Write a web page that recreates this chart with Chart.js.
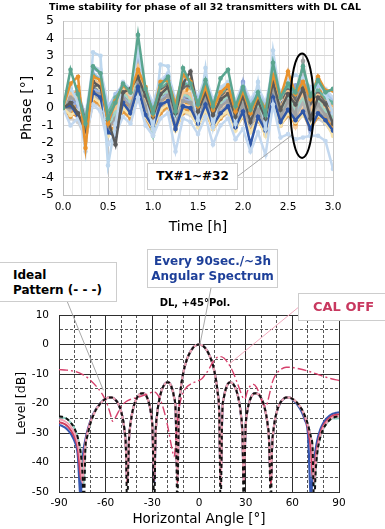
<!DOCTYPE html>
<html>
<head>
<meta charset="utf-8">
<title>Phase stability / angular spectrum</title>
<script src="https://cdn.jsdelivr.net/npm/chart.js@4.4.1/dist/chart.umd.min.js"></script>
<style>
  body { margin: 0; background: #fff; font-family: "DejaVu Sans", Verdana, sans-serif; }
  #page { position: relative; width: 385px; height: 529px; overflow: hidden; }
  #topWrap { position: absolute; left: 0; top: 0; width: 385px; height: 240px; }
  #botWrap { position: absolute; left: 0; top: 240px; width: 385px; height: 289px; }
  .title { position: absolute; font-weight: bold; white-space: nowrap; text-align: center; color: #000; }
  .box { position: absolute; background: #fff; border: 1px solid #cdcdcd; font-weight: bold; font-size: 12px;
         line-height: 15px; box-sizing: border-box; white-space: nowrap; z-index: 5; }
</style>
</head>
<body>
<div id="page">
  <div id="topWrap"><canvas id="phaseChart"></canvas></div>
  <div id="botWrap"><canvas id="patternChart"></canvas></div>

  <div class="title" style="left:25px;width:360px;top:1px;font-size:9.5px;line-height:12px;">Time stability for phase of all 32 transmitters with DL CAL</div>
  <div class="title" style="left:95px;width:200px;top:297px;font-size:10px;line-height:12px;">DL, +45°Pol.</div>

  <div class="box" style="left:147px;top:163px;width:91px;height:27px;line-height:25px;text-align:center;">TX#1~#32</div>
  <div class="box" style="left:-1px;top:262px;width:118px;height:40px;padding:5px 0 0 13px;">Ideal<br>Pattern (- - -)</div>
  <div class="box" style="left:147px;top:249px;width:131px;height:39px;padding-top:4px;text-align:center;color:#1d3f99;">Every 90sec./~3h<br>Angular Spectrum</div>
  <div class="box" style="left:298px;top:293px;width:90px;height:28px;line-height:26px;padding-left:14px;font-size:13px;color:#c8385f;">CAL OFF</div>
</div>

<script>
// ---- top chart: phase of each TX, one point every 5 minutes ----
const minutes = [0,5,10,15,20,25,30,35,40,45,50,55,60,65,70,75,80,85,90,95,100,105,110,115,120,125,130,135,140,145,150,155,160,165,170,175,180];

const tx1  = [0,2.2,0.8,-0.9,2.4,2.0,-0.6,0.3,1.4,0.9,4.2,1.1,-0.3,1.3,1.8,-0.2,2.3,1.4,0.2,1.6,0.1,1.7,2.2,0.1,1.2,-0.1,0.9,-0.4,2.6,0.6,1.4,0.9,2.4,0.7,1.6,0.9,1.1];
const tx2  = [0,1.4,1.8,-2.3,1.8,1.6,-0.9,0.4,1.3,0.9,2.2,1.2,-0.4,1.5,1.6,0.2,1.9,1.5,0.1,1.2,-0.1,0.9,1.3,-0.2,1.0,-0.3,0.7,-0.1,1.9,0.6,2.1,0.8,1.5,0.5,1.8,1.0,1.0];
const tx3  = [0,0.3,-0.3,-1.3,1.5,1.2,-0.7,-2.1,0.9,1.1,1.8,0.7,-0.5,0.8,1.2,-0.3,1.4,2.1,-0.2,0.9,-0.4,0.5,0.8,-0.5,0.7,-0.8,0.4,-0.6,1.5,-0.1,0.8,0.2,1.1,-0.6,0.6,0.2,-0.9];
const tx4  = [0,1.2,0.3,-2.5,3.2,3.0,-3.3,-0.9,1.4,0.8,3.3,0.9,-1.2,2.5,2.4,-0.4,1.8,1.5,-0.7,2.3,-1.1,1.1,1.4,-0.9,1.2,-0.8,1.5,-1.2,3.3,0.5,1.6,1.9,1.7,1.2,1.5,0.8,-0.3];
const tx5  = [0,-1.0,-0.6,-1.8,0.2,-0.2,-2.1,-1.5,-0.5,-0.9,0.6,-1.0,-1.6,-0.6,-0.3,-2.5,-0.6,-0.8,-1.5,-0.5,-2.1,-1.0,-0.6,-1.8,-1.2,-2.5,-1.4,-2.7,0.2,-1.7,-1.5,-1.8,-1.7,-1.6,-1.6,-1.9,-3.5];
const tx6  = [0,0.2,-0.5,-1.7,0.9,0.6,-1.4,-1.6,0.3,-0.3,1.2,-0.4,-1.1,0.2,0.4,-1.2,0.1,0.0,-0.9,0.2,-1.0,-0.3,0.1,-1.1,-0.2,-2.1,-0.5,-1.3,0.6,-0.8,-0.1,-0.7,-0.2,-1.2,-0.3,-0.7,-1.3];
const tx7  = [0,0.6,0.4,-1.4,0.9,0.8,-1.2,-0.6,0.5,0.1,1.4,0.1,-0.9,0.4,0.7,-0.8,0.4,0.3,-0.6,0.5,-0.7,0.1,0.4,-0.8,0.2,-0.9,-0.1,-1.1,1.0,-0.5,0.4,-0.4,2.7,-0.5,0.2,-0.4,-0.8];
const tx8  = [0,0.8,0.5,-0.9,1.6,1.4,-0.5,0.0,1.1,0.6,2.4,0.5,-0.4,0.9,1.2,-0.4,0.9,0.8,-0.1,1.0,-0.2,0.5,0.9,-0.3,0.6,-0.4,0.4,-0.5,1.7,0.0,0.9,0.2,0.8,-0.1,0.7,0.1,-0.2];
const tx9  = [0,-0.4,-0.2,-1.5,0.6,0.3,-1.6,-1.2,0.0,-0.4,0.9,-0.5,-1.2,-0.1,0.2,-1.3,-0.2,-0.3,-1.1,-0.1,-1.2,-0.5,-0.2,-1.3,-0.4,-1.4,-0.6,-1.6,0.4,-1.0,-0.3,-0.8,-0.4,-1.0,-0.4,-0.8,-1.6];
const tx10 = [0,0.9,0.6,-1.6,1.7,1.3,-1.1,-0.3,0.9,0.4,2.0,0.4,-1.5,0.7,1.0,-0.6,0.8,0.6,-0.5,0.8,-0.6,0.3,0.7,-0.7,0.4,-0.6,0.2,-0.9,1.4,-0.2,0.7,-0.1,0.6,-0.3,0.5,-0.2,-0.5];
const tx11 = [0,0.7,0.1,-1.0,2.3,2.0,-0.8,-0.2,0.8,0.5,3.0,0.3,-0.6,0.7,1.1,-0.5,0.7,0.6,-0.3,0.8,-0.4,0.3,0.7,-0.4,1.5,-0.5,0.3,-0.7,1.6,-0.1,0.7,1.3,0.7,0.0,0.5,0.0,-0.4];
const tx12 = [0,-0.5,0.4,-1.9,0.4,0.2,-1.0,-1.3,-0.2,-0.6,0.6,-0.5,-1.4,-0.3,0.1,-1.2,-0.3,0.0,-1.0,-0.2,-1.2,-0.6,-0.2,-1.1,-0.5,-1.3,-0.7,-1.5,0.2,-1.0,-0.4,-0.9,-0.3,-1.2,-0.5,-0.6,-1.1];
const tx13 = [0,0.1,0.9,-0.8,1.2,1.4,-0.5,0.2,1.0,0.5,1.7,0.6,-0.2,1.0,1.3,0.0,1.2,1.3,0.1,1.1,0.0,0.6,1.0,-0.1,0.9,-0.2,0.6,-0.3,1.5,0.3,1.0,0.5,1.1,0.2,0.8,0.3,-0.2];
const tx14 = [0,-0.2,-0.4,-1.1,0.7,0.5,-0.9,-0.8,0.2,-0.1,1.1,-0.2,-1.0,0.1,0.4,-0.9,0.1,-0.1,-0.8,0.2,-0.9,-0.2,0.2,-0.9,0.0,-1.0,-0.3,-1.2,0.8,-0.6,0.1,-0.5,0.3,-0.8,0.0,-0.5,-0.9];
const tx15 = [0,1.1,0.3,-0.7,1.9,1.6,-0.3,0.6,1.2,0.8,2.1,0.9,-0.1,1.1,1.5,0.1,1.5,1.2,0.3,1.3,0.2,0.8,1.2,0.0,1.1,0.1,0.8,-0.1,1.8,0.5,1.2,0.7,1.4,0.4,1.0,0.6,0.3];
const tx16 = [0,0.4,1.0,-0.6,2.0,1.7,0.0,0.8,1.3,1.0,2.3,1.0,0.1,1.4,1.9,0.3,1.5,1.4,0.5,1.5,0.3,1.0,1.3,0.2,1.2,0.3,1.0,0.1,2.0,0.7,1.4,1.0,1.6,0.6,1.3,0.9,0.4];
const tx17 = [0,0.2,-0.1,-1.0,0.5,0.7,-0.6,-0.3,0.4,-0.7,1.0,-0.1,-0.8,0.2,0.5,-0.6,0.2,0.1,-0.5,0.3,-0.6,0.0,0.3,-0.5,0.1,-0.6,-0.2,-0.8,0.9,-0.3,0.2,-1.1,0.3,-0.6,0.1,-0.3,-1.0];
const tx18 = [0,0.5,0.0,-1.3,1.1,0.9,-0.9,-0.5,0.6,0.2,1.6,0.0,-0.8,0.5,0.8,-0.7,0.5,0.4,-0.5,0.6,-0.6,0.1,0.5,-0.7,0.3,-0.8,0.0,-1.0,1.2,-0.4,0.5,-0.3,0.4,-1.6,0.3,-0.3,-0.7];
const tx19 = [0,0.3,1.2,-1.1,1.0,0.6,-0.4,-0.6,0.6,0.0,1.3,0.2,-0.6,0.5,0.6,-0.5,0.4,1.6,-0.3,0.4,-0.4,0.2,0.4,-0.4,0.3,-0.5,0.1,-0.8,1.0,-0.2,0.5,-0.3,0.3,-0.3,1.7,-0.1,-0.4];
const tx20 = [0,0.0,0.2,-0.9,1.0,0.9,-0.6,-0.4,0.8,0.3,1.5,0.3,-0.4,0.6,0.8,-0.4,0.6,0.7,-0.2,0.7,-0.3,0.3,0.6,-0.3,0.6,-0.4,0.3,-0.5,1.2,0.1,0.6,0.0,0.7,-0.3,0.5,0.0,-0.3];
const tx21 = [0,-0.6,-0.8,-1.7,0.3,0.1,-1.5,-1.0,-0.2,-0.5,0.8,-0.7,-1.3,-0.3,0.0,-1.1,-0.3,-0.4,-1.0,-0.2,-1.1,-0.6,-0.3,-1.1,-0.5,-1.2,-0.7,-1.4,0.5,-0.9,-0.5,-0.9,-0.4,-1.0,-0.6,-0.9,-1.5];
const tx22 = [0,0.6,0.0,-0.8,1.4,1.1,-0.2,0.1,0.9,0.6,1.8,0.7,0.0,0.9,1.1,0.0,1.0,0.9,0.2,1.0,0.1,0.6,0.8,0.0,0.8,0.0,0.5,-0.2,1.4,0.3,0.8,0.4,0.9,0.2,0.7,0.3,-0.1];
const tx23 = [0,0.4,-0.1,-1.2,1.3,1.1,-0.8,-0.4,0.6,0.1,1.6,0.0,-1.6,0.4,0.7,-0.9,0.4,0.3,-0.7,0.5,-0.8,0.0,0.4,-0.8,0.2,-0.9,-0.1,-1.0,1.1,-0.5,0.3,-0.4,0.4,-0.7,0.2,-0.4,-0.7];
const tx24 = [0,1.0,0.7,-0.5,1.5,1.3,-0.4,0.3,1.0,0.7,2.0,0.8,-0.2,1.2,1.4,-0.1,1.1,1.0,0.0,1.2,0.0,0.7,1.1,-0.1,0.9,-0.2,0.7,-0.3,2.0,0.4,1.1,0.5,1.2,0.3,0.9,0.4,0.1];
const tx25 = [0,-0.1,0.5,-0.7,1.4,1.2,-0.6,0.0,1.0,0.5,1.9,0.4,-0.5,0.8,1.0,-0.3,0.8,0.7,-0.2,0.9,-0.3,0.4,0.8,-0.2,0.7,-0.3,0.4,-0.4,1.6,0.2,0.8,0.3,0.9,0.1,0.6,0.2,-0.2];
const tx26 = [0,0.4,0.1,-1.0,1.2,1.0,-0.8,-0.3,0.7,0.2,1.7,0.2,-0.6,0.6,0.9,-0.5,0.6,0.5,-0.4,0.7,-0.5,0.2,0.6,-0.5,0.4,-0.6,0.1,-0.7,1.2,-0.2,0.6,-0.1,0.6,-0.4,0.4,-0.9,-0.4];
const tx27 = [0,-0.3,-0.5,-1.0,0.6,0.4,-0.8,-1.0,0.1,-0.3,0.9,-0.3,-1.0,0.0,0.3,-0.9,0.0,-0.2,-0.8,0.0,-0.9,-0.3,0.1,-0.9,-0.2,-1.0,-0.4,-1.1,0.5,-0.7,0.0,-0.6,0.1,-0.8,-0.1,-0.5,-0.8];
const tx28 = [0,0.5,0.3,-0.6,1.0,0.8,-0.4,-0.1,0.7,0.4,1.3,0.4,-0.3,0.7,0.9,-0.2,0.7,0.6,0.0,0.8,-0.1,0.4,0.7,-0.1,0.6,-0.2,0.4,-0.3,1.3,0.2,0.7,0.2,0.8,0.0,0.6,0.1,-0.1];
const tx29 = [0,0.1,0.8,-0.4,2.4,2.2,0.2,0.5,1.5,1.1,2.6,1.2,0.3,1.6,2.0,0.5,1.7,1.6,0.6,1.8,0.5,1.2,1.5,0.4,1.4,0.5,1.2,0.3,2.2,0.9,1.6,1.2,1.9,0.9,1.5,1.1,0.6];
const tx30 = [0,0.7,0.2,-1.1,1.6,1.2,-0.7,-0.2,0.8,0.4,2.2,0.3,-0.5,0.9,1.1,-0.4,0.9,0.7,-0.3,0.9,-0.4,0.3,0.8,-0.4,0.6,-0.5,0.3,-0.6,1.4,0.0,0.8,0.2,2.0,0.1,0.7,0.2,-0.2];
const tx31 = [0,0.1,-0.2,-1.4,0.8,0.6,-1.1,-0.7,0.3,0.0,1.2,-0.1,-0.9,0.3,0.6,-0.8,0.3,0.2,-0.7,0.4,-0.8,0.0,0.3,-0.7,0.1,-0.8,-0.2,-1.0,0.9,-0.5,0.3,-1.0,0.2,-0.6,0.1,-0.4,-0.6];
const tx32 = [0,0.2,0.6,-0.4,1.1,1.0,-0.3,0.1,0.8,0.5,1.4,0.5,-0.1,0.8,1.0,-0.1,0.8,0.7,0.1,0.9,0.0,0.5,0.8,0.0,0.7,-0.1,0.5,-0.2,1.3,0.3,0.8,0.3,0.9,0.1,0.7,0.2,0.0];

const txSeries = [tx1,tx2,tx3,tx4,tx5,tx6,tx7,tx8,tx9,tx10,tx11,tx12,tx13,tx14,tx15,tx16,
                  tx17,tx18,tx19,tx20,tx21,tx22,tx23,tx24,tx25,tx26,tx27,tx28,tx29,tx30,tx31,tx32];
const txColors = ['#5aa58f','#e8922d','#5a5a5a','#bdd7ee','#c3d8ef','#2f57a7','#a0a0a0','#f4c590',
                  '#f6e3ad','#a2d5c2','#8da3d9','#e59a3e','#6b6b6b','#b4b4b4','#69b39f','#a9c6ea',
                  '#f8d2a8','#9db3e3','#ea8f2a','#8c8c8c','#cfcfcf','#f3e8c0','#8dcab3','#f2b97a',
                  '#7d95d0','#7a7a7a','#ef9a3a','#a8a8a8','#c7dbf0','#50a08a','#e08a25','#999999'];

const phaseTicks = [-5,-4,-3,-2,-1,0,1,2,3,4,5];
const timeTickLabels = ['0.0','0.5','1.0','1.5','2.0','2.5','3.0'];

// ---- bottom chart: angular spectrum, DL +45 pol ----
const angleDeg = [-90,-88,-86,-84,-82,-80,-78,-76,-75,-74,-73,-72,-70,-68,-66,-64,-62,-60,-58,-56,-54,-52,-50,-48,-47,-46.2,-45,-44,-42,-40,-38,-36,-34,-32,-31,-30,-28.7,-28,-27,-26,-24,-22,-20,-18,-16,-15,-13.9,-13,-12,-10,-8,-6,-4,-2,
  0,2,4,6,8,10,12,13,13.9,15,16,18,20,22,24,26,27,28,28.7,30,31,32,34,36,38,40,42,44,45,46.2,47,48,50,52,54,56,58,60,62,64,66,68,70,72,73,74,75,76,78,80,82,84,86,88,90];

const idealDb = [-24.4,-24.5,-24.9,-25.6,-26.8,-28.5,-31.4,-36.9,-43,-55,-34.8,-31.5,-27.1,-24.1,-21.9,-20.4,-19.2,-18.4,-18.0,-18.0,-18.6,-20.0,-22.8,-28.5,-34.9,-55,-32.1,-26.6,-21.0,-18.2,-16.8,-16.5,-17.3,-20.1,-22.8,-27.5,-55,-31.6,-24.0,-20.0,-15.5,-13.4,-12.8,-13.9,-17.9,-22.8,-55,-23.2,-16.2,-9.3,-5.4,-2.9,-1.2,-0.3,
  0,-0.3,-1.2,-2.9,-5.4,-9.3,-16.2,-23.2,-55,-22.8,-17.9,-13.9,-12.8,-13.4,-15.5,-20.0,-24.0,-31.6,-55,-27.5,-22.8,-20.1,-17.3,-16.5,-16.8,-18.2,-21.0,-26.6,-32.1,-55,-34.9,-28.5,-22.8,-20.0,-18.6,-18.0,-18.0,-18.4,-19.2,-20.4,-21.9,-24.1,-27.1,-31.5,-34.8,-55,-43,-36.9,-31.4,-28.5,-26.8,-25.6,-24.9,-24.5,-24.4];

const tealDb = [-24.7,-24.8,-24.9,-25.6,-26.8,-28.5,-31.4,-36.9,-43,-47,-34.8,-31.5,-27.1,-24.1,-21.9,-20.4,-19.2,-18.4,-18.0,-18.0,-18.6,-20.0,-22.8,-28.5,-34.9,-45,-32.1,-26.6,-21.0,-18.2,-16.8,-16.5,-17.3,-20.1,-22.8,-27.5,-44,-31.6,-24.0,-20.0,-15.5,-13.4,-12.8,-13.9,-17.9,-22.8,-45,-23.2,-16.2,-9.3,-5.4,-2.9,-1.2,-0.3,
  0,-0.3,-1.2,-2.9,-5.4,-9.3,-16.2,-23.2,-46,-22.8,-17.9,-13.9,-12.8,-13.4,-15.5,-20.0,-24.0,-31.6,-45,-27.5,-22.8,-20.1,-17.3,-16.5,-16.8,-18.2,-21.0,-26.6,-32.1,-44,-34.9,-28.5,-22.8,-20.0,-18.6,-18.0,-18.0,-18.4,-19.2,-20.4,-21.9,-24.1,-27.1,-31.5,-34.8,-48,-43,-36.9,-31.4,-28.5,-26.8,-25.6,-25.0,-25.1,-25.0];

const pinkDb = [-25.4,-25.6,-26.1,-26.9,-28.2,-30.0,-33.2,-40,-47,-42,-34,-31,-26.8,-24.1,-21.9,-20.4,-19.2,-18.4,-18.0,-18.0,-18.6,-20.0,-22.8,-28.5,-34.9,-46,-32.1,-26.6,-21.0,-18.2,-16.8,-16.5,-17.3,-20.1,-22.8,-27.5,-45,-31.6,-24.0,-20.0,-15.5,-13.4,-12.8,-13.9,-17.9,-22.8,-46,-23.2,-16.2,-9.3,-5.4,-2.9,-1.2,-0.3,
  0,-0.3,-1.2,-2.9,-5.4,-9.3,-16.2,-23.2,-47,-22.8,-17.9,-13.9,-12.8,-13.4,-15.5,-20.0,-24.0,-31.6,-46,-27.5,-22.8,-20.1,-17.3,-16.5,-16.8,-18.2,-21.0,-26.6,-32.1,-45,-34.9,-28.5,-22.8,-20.0,-18.6,-18.0,-18.0,-18.4,-19.2,-20.4,-21.9,-24.1,-27.3,-32,-36,-47,-41,-36,-30.9,-28.1,-26.5,-25.4,-24.7,-24.4,-24.3];

const redDb = [-26.4,-26.6,-27.1,-28.0,-29.4,-31.4,-35,-45,-46,-38,-33.5,-30.5,-26.5,-23.9,-21.9,-20.4,-19.2,-18.4,-18.0,-18.0,-18.6,-20.0,-22.8,-28.5,-34.9,-47,-32.1,-26.6,-21.0,-18.2,-16.8,-16.5,-17.3,-20.1,-22.8,-27.5,-46,-31.6,-24.0,-20.0,-15.5,-13.4,-12.8,-13.9,-17.9,-22.8,-47,-23.2,-16.2,-9.3,-5.4,-2.9,-1.2,-0.3,
  0,-0.3,-1.2,-2.9,-5.4,-9.3,-16.2,-23.2,-48,-22.8,-17.9,-13.9,-12.8,-13.4,-15.5,-20.0,-24.0,-31.6,-47,-27.5,-22.8,-20.1,-17.3,-16.5,-16.8,-18.2,-21.0,-26.6,-32.1,-48,-34.9,-28.5,-22.8,-20.0,-18.6,-18.0,-18.0,-18.4,-19.2,-20.4,-21.9,-24.6,-28.3,-36,-45,-44,-38,-34.5,-30.0,-27.4,-25.9,-24.8,-24.1,-23.8,-23.7];

const blueDb = [-27.3,-27.6,-28.2,-29.2,-30.6,-32.8,-37,-52,-40,-35,-32.2,-29.8,-26.2,-23.6,-21.7,-20.3,-19.2,-18.4,-18.0,-18.0,-18.6,-20.0,-22.8,-28.5,-34.9,-46,-32.1,-26.6,-21.0,-18.2,-16.8,-16.5,-17.3,-20.1,-22.8,-27.5,-47,-31.6,-24.0,-20.0,-15.5,-13.4,-12.8,-13.9,-17.9,-22.8,-46,-23.2,-16.2,-9.3,-5.4,-2.9,-1.2,-0.3,
  0,-0.3,-1.2,-2.9,-5.4,-9.3,-16.2,-23.2,-46,-22.8,-17.9,-13.9,-12.8,-13.4,-15.5,-20.0,-24.0,-31.6,-46,-27.5,-22.8,-20.1,-17.3,-16.5,-16.8,-18.2,-21.0,-26.6,-32.1,-46,-34.9,-28.5,-22.8,-20.0,-18.6,-18.0,-17.9,-18.6,-19.6,-21.0,-22.8,-25.5,-30,-52,-44,-39.5,-35.5,-32.5,-28.8,-26.5,-25.1,-24.1,-23.5,-23.2,-23.0];

const calAngles = [-90,-85,-80,-75,-70,-65,-62,-59,-57,-55.5,-54,-52,-50,-47,-44,-40,-36,-32,-29,-26,-23,-20,-17.5,-16,-14.5,-13,-11,-8,-5,-2,
  0,2,4,6,8,10,12,14,16,18,20,22,24,26,28,29.5,31,33,35,37,39,41,43,45,47,49,52,56,60,65,70,75,80,85,90];
const calOffDb = [-8.5,-8.7,-9.1,-10.1,-12.0,-14.8,-17.0,-20.2,-23.5,-26,-25,-23,-21,-19.4,-18.6,-18.0,-17.3,-16.6,-16.0,-17.5,-21.5,-28,-35,-38,-30,-22,-17.5,-14.5,-13.3,-12.6,
  -12.2,-11.5,-10.2,-8.7,-6.8,-5.2,-4.3,-4.1,-4.6,-5.8,-7.4,-9.5,-12.2,-15,-17.8,-18.5,-16,-14,-13.5,-14.5,-17,-20,-21,-17.5,-13,-10.5,-8.7,-7.7,-7.8,-8.3,-9.0,-9.9,-10.8,-11.6,-12.2];

const levelTicks = [10,0,-10,-20,-30,-40,-50];
const angleTicks = [-90,-60,-30,0,30,60,90];

const FONT = '"DejaVu Sans", Verdana, sans-serif';
Chart.defaults.font.family = FONT;
Chart.defaults.color = '#000';
Chart.defaults.animation = false;

const pts = (xs, ys) => xs.map((x, i) => ({ x: x, y: ys[i] }));

// leader lines from the html boxes (page px) to a data point
const leaderLines = {
  id: 'leaderLines',
  afterDatasetsDraw(chart, args, opts) {
    const { ctx, scales: { x, y } } = chart;
    const offTop = chart.canvas.parentNode.offsetTop;
    ctx.save();
    (opts.lines || []).forEach(l => {
      ctx.strokeStyle = l.color;
      ctx.lineWidth = 1;
      ctx.beginPath();
      ctx.moveTo(l.from[0], l.from[1] - offTop);
      ctx.lineTo(x.getPixelForValue(l.to[0]), y.getPixelForValue(l.to[1]));
      ctx.stroke();
    });
    if (opts.ellipse) {
      const e = opts.ellipse;
      const cx = x.getPixelForValue(e.x), cy = y.getPixelForValue(e.y);
      const rx = Math.abs(x.getPixelForValue(e.x + e.rx) - cx);
      const ry = Math.abs(y.getPixelForValue(e.y + e.ry) - cy);
      ctx.strokeStyle = '#000';
      ctx.lineWidth = 2;
      ctx.beginPath();
      ctx.ellipse(cx, cy, rx, ry, 0, 0, Math.PI * 2);
      ctx.stroke();
    }
    ctx.restore();
  }
};

// ---- top chart ----
new Chart(document.getElementById('phaseChart'), {
  type: 'line',
  data: {
    datasets: txSeries.map((s, k) => ({
      label: 'TX#' + (k + 1),
      data: pts(minutes.map(m => m / 60), s),
      borderColor: txColors[k],
      backgroundColor: txColors[k],
      borderWidth: 2.5,
      pointRadius: 2.3,
      pointBorderWidth: 0,
      pointBackgroundColor: txColors[k],
      tension: 0
    }))
  },
  options: {
    responsive: true,
    maintainAspectRatio: false,
    layout: { padding: { left: 0, right: 52, top: 21, bottom: 0 } },
    plugins: {
      legend: { display: false },
      tooltip: { enabled: false },
      leaderLines: {
        lines: [{ from: [238, 176], to: [2.545, -1.55], color: '#a8a8a8' }],
        ellipse: { x: 2.656, y: 0.13, rx: 0.13, ry: 3.0 }
      }
    },
    scales: {
      x: {
        type: 'linear', min: 0, max: 3,
        afterFit: s => { s.height = 45; },
        ticks: {
          stepSize: 0.1, autoSkip: false, maxRotation: 0, padding: 6,
          font: { size: 10.5 },
          callback: v => { const k = Math.round(v * 10); return k % 5 === 0 ? timeTickLabels[k / 5] : ''; }
        },
        grid: { drawTicks: false, color: c => Math.round(c.tick.value * 10) % 5 === 0 ? '#c4c4c4' : '#e6e6e6' },
        border: { color: '#bdbdbd' },
        title: { display: true, text: 'Time [h]', font: { size: 14 }, padding: { top: 0, bottom: 4 } }
      },
      y: {
        min: -5, max: 5,
        afterFit: s => { s.width = 63; },
        ticks: {
          stepSize: 1, autoSkip: false, padding: 9, font: { size: 12.5 },
          callback: v => phaseTicks.includes(v) ? String(v) : ''
        },
        grid: { drawTicks: false, color: '#d6d6d6' },
        border: { color: '#bdbdbd' },
        title: { display: true, text: 'Phase [°]', font: { size: 14 }, padding: { top: 19, bottom: 0 } }
      }
    }
  },
  plugins: [leaderLines]
});

// ---- bottom chart ----
const lineSet = (label, xs, ys, color, width, dash) => ({
  label: label,
  data: pts(xs, ys),
  borderColor: color,
  borderWidth: width,
  borderDash: dash,
  pointRadius: 0,
  cubicInterpolationMode: 'monotone',
  fill: false
});

// first dataset is drawn on top
new Chart(document.getElementById('patternChart'), {
  type: 'line',
  data: {
    datasets: [
      lineSet('Ideal', angleDeg, idealDb, '#111', 2, [4, 3]),
      lineSet('CAL OFF', calAngles, calOffDb, '#d6406c', 1.4, [9, 3, 2, 3]),
      lineSet('Meas 2', angleDeg, pinkDb, '#f2a2b5', 2, []),
      lineSet('Meas 1', angleDeg, tealDb, '#8ccdbf', 2, []),
      lineSet('Meas 3', angleDeg, redDb, '#d2405f', 2, []),
      lineSet('Meas 4', angleDeg, blueDb, '#3656b0', 2.2, [])
    ]
  },
  options: {
    responsive: true,
    maintainAspectRatio: false,
    layout: { padding: { left: 0, right: 46, top: 75, bottom: 0 } },
    plugins: {
      legend: { display: false },
      tooltip: { enabled: false },
      leaderLines: {
        lines: [
          { from: [67, 301], to: [-61.5, -15.5], color: '#a8a8a8' },
          { from: [211, 288], to: [0.5, -0.3], color: '#a8a8a8' },
          { from: [300, 306], to: [19.9, -6.4], color: '#f2a9bd' }
        ]
      }
    },
    scales: {
      x: {
        type: 'linear', min: -90, max: 90,
        afterFit: s => { s.height = 37; },
        ticks: {
          stepSize: 10, autoSkip: false, maxRotation: 0, padding: 5,
          font: { size: 10.5 },
          callback: v => angleTicks.includes(v) ? String(v) : ''
        },
        grid: { drawTicks: false, color: c => c.tick.value % 30 === 0 ? '#2e2e2e' : '#555' },
        border: { color: '#2e2e2e', dash: c => (c.tick && c.tick.value % 30 !== 0) ? [3, 2] : [] },
        title: { display: true, text: 'Horizontal Angle [°]', font: { size: 13.5 }, padding: { top: 0, bottom: 1 } }
      },
      y: {
        min: -50, max: 10,
        afterFit: s => { s.width = 59; },
        ticks: {
          stepSize: 5, autoSkip: false, padding: 10, font: { size: 10.5 },
          callback: v => levelTicks.includes(v) ? String(v) : ''
        },
        grid: { drawTicks: false, color: c => c.tick.value % 10 === 0 ? '#2e2e2e' : '#555' },
        border: { color: '#2e2e2e', dash: c => (c.tick && c.tick.value % 10 !== 0) ? [3, 2] : [] },
        title: { display: true, text: 'Level [dB]', font: { size: 12.5 }, padding: { top: 14, bottom: 0 } }
      }
    }
  },
  plugins: [leaderLines]
});
</script>
</body>
</html>
